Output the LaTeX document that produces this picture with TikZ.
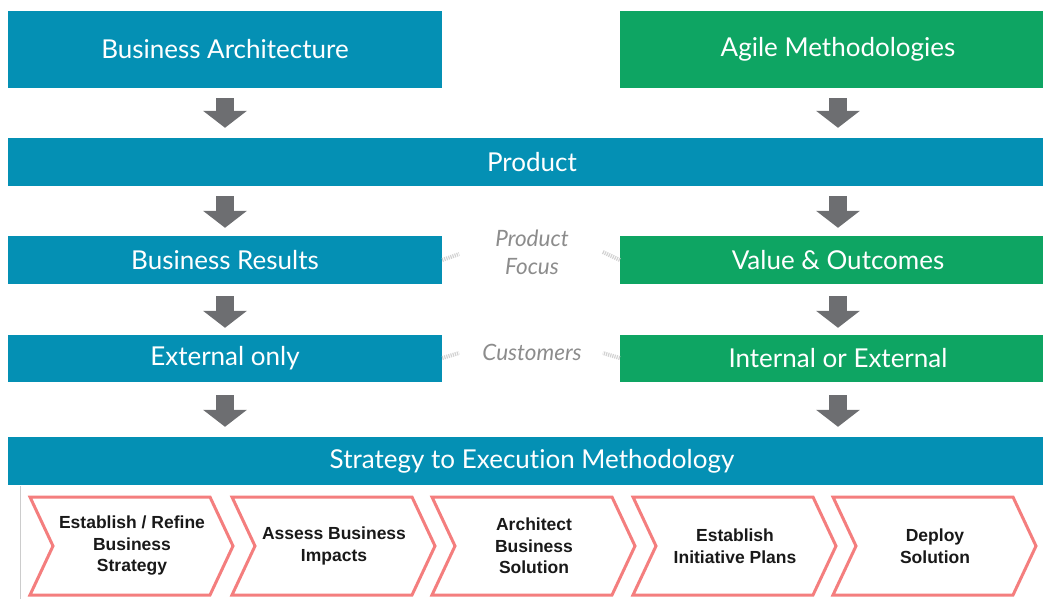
\documentclass[tikz,border=0pt]{standalone}
\usepackage{fontspec}
\setmainfont{Lato}[Ligatures={NoCommon}]
\newfontfamily\chevfont{Liberation Sans}
\usetikzlibrary{arrows.meta,calc}

\definecolor{bizblue}{HTML}{0490B4}
\definecolor{agilegreen}{HTML}{0EA563}
\definecolor{arrowgray}{HTML}{6D6E71}
\definecolor{chevred}{HTML}{F47E7E}
\definecolor{notegray}{HTML}{8C8C8C}
\definecolor{linkgray}{HTML}{D2D2D2}

\tikzset{
  bar/.style={draw=none, text=white, inner sep=0pt, font=\fontsize{26}{28}\selectfont},
  bluebar/.style={bar, fill=bizblue},
  greenbar/.style={bar, fill=agilegreen},
  blockarrow/.style={draw=arrowgray, line width=18pt,
    -{Triangle[width=43pt,length=17pt]}},
  note/.style={text=notegray, font=\fontsize{22.5}{28}\selectfont\itshape, align=center},
  link/.style={draw=linkgray, line width=4pt, dash pattern=on 1.2pt off 1pt},
  chevron/.style={draw=chevred, fill=white, line width=3pt, line join=miter},
  chevtext/.style={font=\chevfont\bfseries\fontsize{17.5}{21.5}\selectfont,
    text=black!90, align=center, inner sep=0pt}
}

\begin{document}
\begin{tikzpicture}[x=1pt,y=-1pt]
\useasboundingbox (0,0) rectangle (1043,598);

% column positions of the block arrows
\coordinate (colL) at (225,0);
\coordinate (colR) at (838,0);

% top level
\node[bluebar, minimum width=434pt, minimum height=77pt] (ba) at (225,49.5) {Business Architecture};
\node[greenbar, minimum width=436pt, minimum height=77pt] (am) at (838,49.5) {Agile Methodologies};

% product bar
\node[bluebar, minimum width=1048pt, minimum height=48pt] (prod) at (532,162) {Product};

% results row
\node[bluebar, minimum width=434pt, minimum height=48pt] (br) at (225,260) {Business Results};
\node[greenbar, minimum width=436pt, minimum height=48pt] (vo) at (838,260) {Value \& Outcomes};

% customers row
\node[bluebar, minimum width=434pt, minimum height=47pt] (eo) at (225,358.5) {External only};
\node[greenbar, minimum width=436pt, minimum height=47pt] (ie) at (838,358.5) {Internal or External};

% methodology bar
\node[bluebar, minimum width=1048pt, minimum height=48pt] (strat) at (532,461) {Strategy to Execution Methodology};

% comparison labels between the columns
\node[note] (pf) at (532,252) {Product\\Focus};
\node[note] (cu) at (532,352) {Customers};
\draw[link] (br.east) -- ++(17,-6);
\draw[link] (vo.west) -- ++(-17,-8);
\draw[link] ($(eo.east)+(0,-0.5)$) -- ++(17,-5);
\draw[link] ($(ie.west)+(0,-0.5)$) -- ++(-17,-5);

% block arrows between levels
\foreach \col in {colL,colR}{
  \draw[blockarrow] ($(\col |- ba.south)+(0,10)$) -- ($(\col |- prod.north)+(0,-10)$);
  \draw[blockarrow] ($(\col |- prod.south)+(0,10)$) -- ($(\col |- br.north)+(0,-8)$);
  \draw[blockarrow] ($(\col |- br.south)+(0,12)$) -- ($(\col |- eo.north)+(0,-7)$);
  \draw[blockarrow] ($(\col |- eo.south)+(0,13)$) -- ($(\col |- strat.north)+(0,-10)$);
}

% panel holding the process steps
\fill[white] (20,485) rectangle (1060,600);
\draw[black!20, line width=0.8pt] (20,486) -- (20,600);

% process chevrons
\foreach \x/\name/\txt in {
    30/s1/{Establish / Refine\\Business\\Strategy},
    232/s2/{Assess Business\\Impacts},
    432/s3/{Architect\\Business\\Solution},
    633/s4/{Establish\\Initiative Plans},
    833/s5/{Deploy\\Solution}}{
  \draw[chevron] (\x,497) -- ++(180,0) -- ++(23,49) -- ++(-23,49) -- ++(-180,0) -- ++(23,-49) -- cycle;
  \node[chevtext] (\name) at (\x+102,546) {\txt};
}
\end{tikzpicture}
\end{document}
